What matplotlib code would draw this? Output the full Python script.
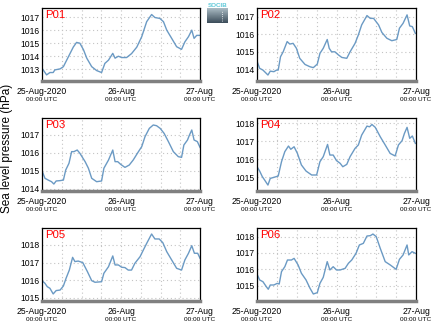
import matplotlib
matplotlib.use("Agg")
import matplotlib.pyplot as plt
from matplotlib.colors import LinearSegmentedColormap
import numpy as np

plt.rcParams['font.family'] = ['Liberation Sans', 'DejaVu Sans']

# hours since 25-Aug-2020 00:00 UTC, pressure in hPa
p01_h = [0, 1.4, 2.4, 3.4, 3.9, 5.5, 6.5, 7.5, 8.5, 9.5, 10.5, 11.5, 12.6, 13.6, 15.1, 16.6, 18.1, 19.1, 20.2,
         21.5, 22.2, 23.2, 24.2, 25.7, 27.2, 28.8, 30.3, 31.8, 33.3, 34.3, 35.8, 36.9, 37.9, 39.4, 40.9, 42.4,
         43.4, 44.5, 45.5, 46.2, 47.0, 48]
p01_v = [1013.08, 1012.57, 1012.75, 1012.75, 1012.95, 1013.03, 1013.2, 1013.7, 1014.2, 1014.7, 1015.06, 1015.0,
         1014.5, 1013.85, 1013.2, 1012.9, 1012.75, 1013.45, 1013.7, 1014.22, 1013.85, 1014.0, 1013.9, 1013.9,
         1014.2, 1014.7, 1015.5, 1016.65, 1017.2, 1016.97, 1016.9, 1016.65, 1016.0, 1015.37, 1014.73, 1014.53,
         1015.1, 1015.5, 1016.0, 1015.37, 1015.6, 1015.6]

p02_h = [0, 0.8, 1.8, 3.3, 4.0, 5.1, 5.9, 6.4, 7.1, 7.9, 9.1, 9.9, 10.9, 11.9, 12.9, 14.5, 16.0, 17.0, 18.2, 19.0,
         20.0, 21.2, 21.8, 22.5, 23.5, 24.6, 25.6, 27.1, 28.1, 29.6, 30.6, 31.6, 33.2, 34.2, 35.2, 36.7, 37.7,
         39.2, 40.7, 42.2, 43.0, 44.1, 45.3, 46.1, 46.9, 47.8]
p02_v = [1014.47, 1014.06, 1013.96, 1013.68, 1013.9, 1013.87, 1013.96, 1013.96, 1014.72, 1015.0, 1015.58, 1015.44,
         1015.48, 1015.2, 1014.63, 1014.28, 1014.15, 1014.1, 1014.3, 1014.91, 1015.2, 1015.7, 1015.2, 1015.0,
         1015.0, 1014.82, 1014.68, 1014.63, 1015.0, 1015.48, 1015.96, 1016.53, 1017.06, 1016.9, 1016.9, 1016.53,
         1016.1, 1015.77, 1015.63, 1015.7, 1016.34, 1016.62, 1017.1, 1016.47, 1016.43, 1016.05]

p03_h = [0, 0.9, 1.9, 2.9, 3.6, 4.3, 5.5, 6.5, 7.2, 8.2, 9.0, 9.7, 10.7, 11.5, 13.1, 14.1, 15.1, 16.6, 18.1, 18.8,
         20.2, 21.5, 22.2, 23.0, 23.9, 25.2, 26.5, 27.7, 29.3, 30.3, 31.3, 32.6, 33.8, 34.8, 35.9, 37.1, 38.4,
         39.9, 41.4, 42.4, 43.1, 44.2, 44.8, 45.5, 46.2, 47.2, 48]
p03_v = [1015.0, 1014.58, 1014.48, 1014.39, 1014.26, 1014.43, 1014.45, 1014.48, 1015.04, 1015.42, 1016.07, 1016.07,
         1016.16, 1015.98, 1015.51, 1015.14, 1014.58, 1014.39, 1014.43, 1015.14, 1015.6, 1016.16, 1015.51, 1015.51,
         1015.36, 1015.19, 1015.32, 1015.6, 1016.07, 1016.35, 1016.91, 1017.37, 1017.56, 1017.52, 1017.37, 1017.09,
         1016.63, 1016.07, 1015.79, 1015.75, 1016.44, 1016.72, 1017.0, 1017.28, 1016.72, 1016.63, 1016.31]

p04_h = [0, 0.8, 1.6, 2.3, 3.3, 4.0, 5.1, 6.4, 7.4, 8.4, 9.5, 10.2, 11.2, 12.2, 13.4, 14.8, 16.5, 18.0, 19.0, 20.0,
         21.3, 22.0, 23.0, 24.0, 25.1, 25.9, 27.1, 28.1, 29.6, 30.6, 31.6, 33.2, 34.0, 34.7, 35.7, 37.2, 38.7,
         40.2, 41.7, 42.7, 43.8, 44.5, 45.3, 46.1, 46.9, 47.8]
p04_v = [1015.59, 1015.35, 1015.04, 1014.85, 1014.57, 1014.94, 1015.0, 1015.07, 1015.87, 1016.43, 1016.74, 1016.56,
         1016.7, 1016.33, 1015.69, 1015.35, 1015.13, 1015.13, 1015.87, 1016.15, 1016.83, 1016.24, 1016.24, 1015.93,
         1015.78, 1015.59, 1015.72, 1016.15, 1016.61, 1016.8, 1017.35, 1017.85, 1017.81, 1017.94, 1017.78, 1017.26,
         1016.8, 1016.33, 1016.19, 1016.8, 1017.04, 1017.44, 1017.78, 1017.17, 1017.3, 1016.89]

p05_h = [0, 0.9, 1.6, 2.4, 3.4, 4.3, 5.5, 6.5, 7.3, 8.3, 9.3, 10.0, 11.0, 12.4, 13.8, 15.1, 16.1, 18.1, 18.8, 20.2,
         21.5, 22.2, 23.2, 24.2, 25.2, 26.2, 27.2, 28.2, 29.8, 30.8, 31.8, 33.3, 34.3, 35.6, 36.7, 37.9, 39.4,
         40.9, 42.4, 43.4, 44.5, 45.5, 46.3, 47.3, 48]
p05_v = [1015.98, 1015.83, 1015.64, 1015.55, 1015.23, 1015.42, 1015.45, 1015.68, 1016.11, 1016.58, 1017.3, 1017.06,
         1017.09, 1017.0, 1016.49, 1015.98, 1015.89, 1015.92, 1016.4, 1016.77, 1017.38, 1016.87, 1016.87, 1016.74,
         1016.72, 1016.58, 1016.58, 1016.96, 1017.34, 1017.72, 1018.09, 1018.62, 1018.34, 1018.34, 1018.13, 1017.62,
         1017.15, 1016.68, 1016.58, 1017.15, 1017.53, 1017.96, 1017.53, 1017.53, 1017.25]

p06_h = [0, 0.8, 1.8, 2.8, 3.4, 4.0, 5.1, 6.1, 6.7, 7.4, 8.4, 9.2, 10.4, 11.2, 12.4, 13.4, 14.8, 16.0, 17.0, 18.2,
         19.0, 20.0, 21.2, 22.0, 23.0, 24.0, 25.1, 26.6, 27.6, 28.6, 29.9, 30.9, 32.1, 33.2, 34.2, 35.0, 36.0,
         37.2, 38.7, 40.2, 42.0, 43.0, 44.1, 45.3, 45.8, 46.8, 47.8]
p06_v = [1015.71, 1015.35, 1015.24, 1014.94, 1014.78, 1015.04, 1015.04, 1015.14, 1015.1, 1015.86, 1016.16, 1016.57,
         1016.57, 1016.67, 1016.27, 1015.76, 1015.35, 1014.84, 1014.49, 1014.57, 1015.14, 1015.51, 1016.47, 1015.96,
         1016.16, 1015.96, 1015.96, 1016.06, 1016.37, 1016.57, 1016.98, 1017.49, 1017.59, 1018.04, 1018.06, 1018.16,
         1018.0, 1017.29, 1016.47, 1016.27, 1016.0, 1016.61, 1016.88, 1017.49, 1016.88, 1017.08, 1016.98]

names = ["P01", "P02", "P03", "P04", "P05", "P06"]
hours = [p01_h, p02_h, p03_h, p04_h, p05_h, p06_h]
values = [p01_v, p02_v, p03_v, p04_v, p05_v, p06_v]
ylims = [(1012.1, 1017.7), (1013.34, 1017.49), (1013.87, 1017.95),
         (1014.24, 1018.3), (1014.83, 1018.96), (1014.06, 1018.53)]
xtick_labels = ["25-Aug-2020", "26-Aug", "27-Aug"]

fig = plt.figure(figsize=(4.34, 3.27), dpi=100)

W, H = 434, 327
lefts = [42, 257]
widths = [158, 159]
tops = [8, 118, 228]
ax_h = 73

for i in range(6):
    r, c = divmod(i, 2)
    rect = [lefts[c] / W, 1 - (tops[r] + ax_h) / H, widths[c] / W, ax_h / H]
    ax = fig.add_axes(rect)
    ax.plot(hours[i], values[i], color='#6b9ac4', lw=1)
    ax.set_xlim(0, 48)
    ax.set_ylim(*ylims[i])
    ax.set_xticks(np.arange(0, 49, 6), minor=True)
    ax.set_xticks([0, 24, 48])
    ax.set_xticklabels(xtick_labels, fontsize=6.2)
    ax.grid(True, which='both', axis='x', color='#c4c4c4', ls=(0, (1, 2.5)), lw=0.8)
    ax.grid(True, axis='y', color='#c4c4c4', ls=(0, (1, 2.5)), lw=0.8)
    ax.yaxis.set_major_locator(matplotlib.ticker.MultipleLocator(1))
    ax.yaxis.set_major_formatter(matplotlib.ticker.FormatStrFormatter('%d'))
    ax.tick_params(axis='y', length=0, pad=1.5, labelsize=6.2)
    ax.tick_params(axis='x', which='both', length=0, pad=4.5)
    for s in ['top', 'left', 'right']:
        ax.spines[s].set_color('black')
        ax.spines[s].set_linewidth(0.9)
    ax.spines['bottom'].set_color('#808080')
    ax.spines['bottom'].set_linewidth(2.5)
    for xt in [0, 24, 48]:
        ax.text(xt / 48, -0.215, "00:00 UTC", transform=ax.transAxes,
                ha='center', va='top', fontsize=4.6)
    ax.text(0.02, 0.97, names[i], transform=ax.transAxes, color='red',
            fontsize=8.2, ha='left', va='top')

fig.text(7 / W, 1 - 148 / H, "Sea level pressure (hPa)", rotation=90,
         ha='center', va='center', fontsize=8.5)

# small logo at the top
lax = fig.add_axes([207 / W, 1 - 23 / H, 21 / W, 20 / H])
logo_cmap = LinearSegmentedColormap.from_list("logo", ["#aabbc4", "#3c4d5a"])
grad = np.linspace(0, 1, 50).reshape(-1, 1)
lax.imshow(grad, cmap=logo_cmap, aspect='auto', extent=(0, 1, 0, 0.72))
lax.text(0.5, 0.87, "SOCIB", color='#5ec8d8', fontsize=4.5, ha='center', va='center',
         fontweight='bold')
lax.plot([0.72, 0.72], [0.1, 0.65], color='white', ls=':', lw=0.6)
lax.set_xlim(0, 1)
lax.set_ylim(0, 1)
lax.axis('off')

fig.savefig("out.png", dpi=100)
